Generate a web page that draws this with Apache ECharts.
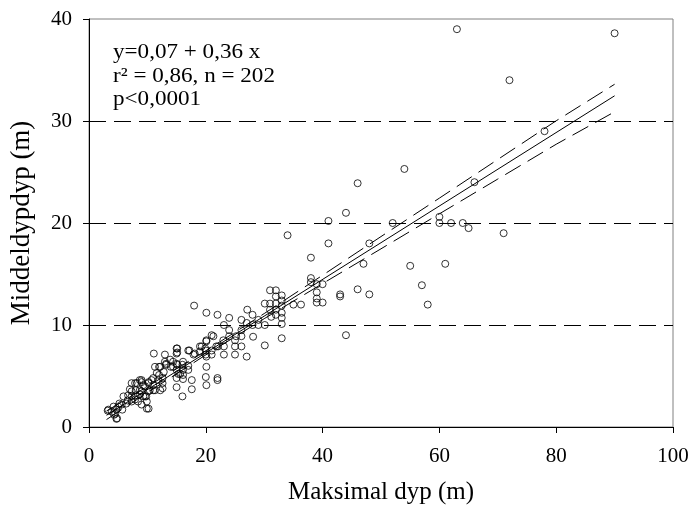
<!DOCTYPE html>
<html>
<head>
<meta charset="utf-8">
<script src="https://cdn.jsdelivr.net/npm/echarts@6/dist/echarts.min.js"></script>
<style>html,body{margin:0;padding:0;background:#fff}#c{width:692px;height:510px}</style>
</head>
<body>
<div id="c"></div>
<script>
// Observed points [maksimal dyp, middeldyp]
var points = [
[3.2,1.6],[3.9,1.5],[4.7,1.7],[4.3,1.2],[4.7,0.8],[5,2],[5.6,2.2],[5.7,1.7],[6.4,2.3],[6.6,2.6],
[7.3,2.5],[7.3,3],[6.7,3.1],[7.9,2.7],[8.4,2.5],[7.9,3.1],[7.3,3.5],[8,3.6],[8.7,3.6],[8.7,3.2],
[9.9,1.8],[9.6,3],[9.9,2.5],[9,2.2],[7.3,4.3],[8.2,4.3],[9,4.4],[10.2,4.3],[11,4.1],[10.7,4.6],
[9.6,4],[10.4,3.6],[11.3,3.6],[11.9,4.6],[11.6,5.3],[11.1,7.2],[12,5.9],
[9,4.6],[9.3,4.1],[11,4.8],[10.2,4.4],[12.6,4.3],[12.6,3.8],[11,3.6],[10.2,3.5],[9,3.5],
[9.3,3],[12.6,4.8],[12,5.1],[12.8,5.4],[11.3,5.9],[12.2,5.9],[14.4,5.9],[13.2,6.1],[13.9,6.6],[13,6.4],[13,7.1],
[15,7.7],[15,7.2],[17,7.5],[18.1,7.2],[13.2,6.2],[14,5.9],[15,6.2],[16,6.1],[15,5.6],[15.6,5.2],
[15,4.8],[15,3.9],[17.6,3.7],[8.7,4.6],[7.9,4.3],[7,3.7],[5.9,3],[5.2,2.3],[4.2,2],[3.3,1.7],
[4.5,1.3],[4.8,0.85],[10.2,1.8],[9.8,3],[12.2,3.6],
[15.1,7.7],[15.1,7.3],[17.2,7.5],[17.9,7.1],[16.1,6.4],[14.4,6.4],[15.1,6.1],[17,6],[17,5.6],[16.1,5.6],
[16.1,5.1],[15.3,5.2],[16.1,4.7],[17.6,4.6],[20.1,5.9],[20,4.9],[20.1,4.1],[22,4.6],[22,4.8],[16,3],
[21,9],[20.1,8.4],[19.3,7.9],[20,7.5],[21,7.5],[21,7.1],[20,7.1],[19,7.4],[19,7.9],[19.9,7.7],
[20.1,11.2],[22,11],[18,11.9],
[31,13.4],[32,13.4],[32,12.8],[30.1,12.1],[31,12.1],[32,12.1],[31,11.5],[32,11.5],[31.2,10.8],[32,11],
[24,10.7],[27.1,11.5],[28,11],[26.1,10.5],[29,10],[30.1,10],[23.1,10],[24,9.5],[26.1,9.5],[24,8.9],
[25.2,8.9],[26.1,8.9],[28.1,8.85],[25,8.5],[23,8.5],[21.3,8.9],[20.1,8.5],[22.1,7.9],[23.1,7.9],[25,7.9],
[26.1,7.9],[30.1,8],[23.1,7.1],[25,7.1],[27,6.9],[20.1,6.9],[21.8,7.9],[27,10.2],[28,10],[29,10.5],
[33,12.9],[33,12.4],[33,11.9],[33,11.2],[33,10.7],[33,10.1],[33,8.7],[35,12],[36.3,12],[34,18.8],
[38,16.6],[38,14.6],[38,14.2],[39,14],[40,14],[39,13.2],[39,12.6],[40,12.2],[39,12.2],[43,13],
[43,12.8],[46,13.5],[48,13],[44,9],[41,20.2],[41,18],[44,21],[46,23.9],[48,18],[47,16],
[52,20],[54,25.3],[55,15.8],[57,13.9],[58,12],[60,20.6],[60,20],[61,16],[62,20],[63,39],
[64,20],[65,19.5],[66,24],[71,19],[72,34],[78,29],[90,38.6]
];
// Regression line (y = 0,07 + 0,36 x) endpoints and 95% band
var fitLine = [[3,1.15],[90,32.47]];
var bandX = [3,10,20,30,40,50,60,70,80,90];
var bandUpper = [1.57,3.97,7.47,11.12,14.88,18.67,22.44,26.23,30.02,33.6];
var bandLower = [0.73,3.37,7.07,10.62,14.06,17.47,20.9,24.31,27.72,30.9];
var refLines = [10,20,30];
var xTicks = {min:0,max:100,interval:20};
var yTicks = {min:0,max:40,interval:10};

var font = 'Liberation Serif, Times New Roman, serif';
var chart = echarts.init(document.getElementById('c'));
function zipXY(xs, ys){ return xs.map(function(x,i){return [x, ys[i]];}); }
chart.setOption({
  animation:false,
  grid:{left:89,right:19,top:19,bottom:83,outerBoundsMode:'none',containLabel:false,
    show:true,borderColor:'#808080',borderWidth:1,backgroundColor:'transparent'},
  xAxis:{type:'value',min:xTicks.min,max:xTicks.max,interval:xTicks.interval,
    name:'Maksimal dyp (m)',nameLocation:'middle',nameGap:53,
    nameTextStyle:{fontFamily:font,fontSize:25,color:'#000'},
    axisLine:{lineStyle:{color:'#000',width:1}},
    axisTick:{show:true,inside:false,length:6,lineStyle:{color:'#000'}},
    axisLabel:{fontFamily:font,fontSize:21,color:'#000',margin:19},
    splitLine:{show:false}},
  yAxis:{type:'value',min:yTicks.min,max:yTicks.max,interval:yTicks.interval,
    name:'Middeldypdyp (m)',nameLocation:'middle',nameGap:54,
    nameTextStyle:{fontFamily:font,fontSize:27,color:'#000'},
    axisLine:{show:true,lineStyle:{color:'#000',width:1}},
    axisTick:{show:true,inside:false,length:6,lineStyle:{color:'#000'}},
    axisLabel:{fontFamily:font,fontSize:21,color:'#000',margin:17},
    splitLine:{show:false}},
  graphic:[{type:'text',x:113,y:41,scaleX:1.1,style:{
    text:'y=0,07 + 0,36 x\nr\u00b2 = 0,86, n = 202\np<0,0001',
    font:'21px '+font,fill:'#000',lineHeight:23.5}}],
  series:[
    {type:'line',data:[],markLine:{silent:true,symbol:'none',label:{show:false},
      lineStyle:{color:'#000',width:1,type:[17,8]},
      data:refLines.map(function(v){return {yAxis:v};})}},
    {type:'line',data:zipXY(bandX,bandUpper),showSymbol:false,smooth:false,
      lineStyle:{color:'#000',width:1,type:[18,8]},z:3},
    {type:'line',data:zipXY(bandX,bandLower),showSymbol:false,smooth:false,
      lineStyle:{color:'#000',width:1,type:[18,8]},z:3},
    {type:'line',data:fitLine,showSymbol:false,lineStyle:{color:'#000',width:1},z:3},
    {type:'scatter',data:points,symbol:'circle',symbolSize:7,
      itemStyle:{color:'rgba(255,255,255,0)',borderColor:'#000',borderWidth:1},z:4}
  ]
});
</script>
</body>
</html>
